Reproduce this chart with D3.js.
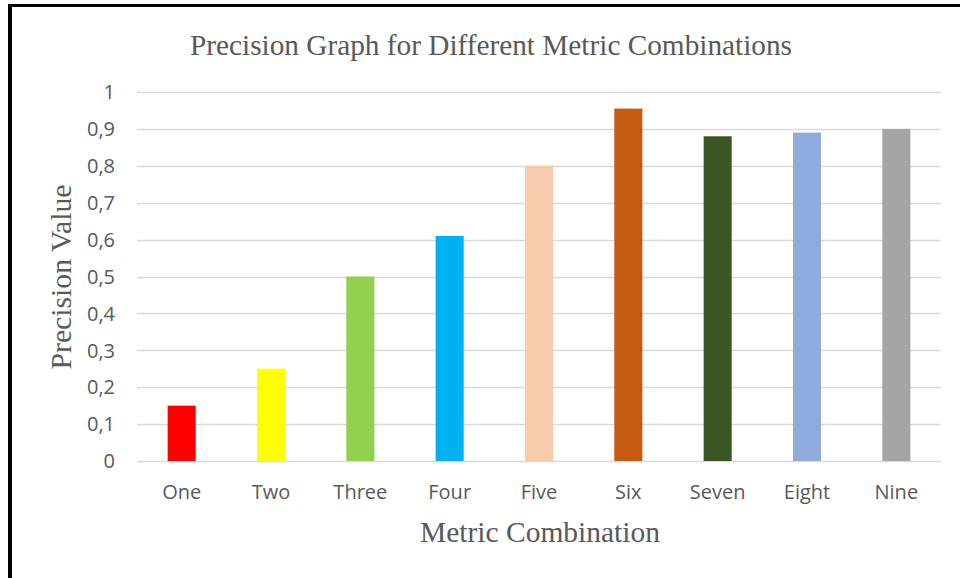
<!DOCTYPE html>
<html>
<head>
<meta charset="utf-8">
<script src="https://cdn.jsdelivr.net/npm/d3@7"></script>
<style>
  html, body { margin: 0; padding: 0; background: #fff; }
  svg { display: block; }
</style>
</head>
<body>
<svg id="chart" width="960" height="578"></svg>
<script>
// Precision per metric combination
const categories = ["One", "Two", "Three", "Four", "Five", "Six", "Seven", "Eight", "Nine"];
const precision  = [0.15, 0.25, 0.50, 0.61, 0.80, 0.955, 0.88, 0.89, 0.90];
const barColors  = ["#FF0000", "#FFFF00", "#92D050", "#00B0F0", "#F8CBAD", "#C55A11", "#3A5623", "#8FAADC", "#A5A5A5"];
const yTicks     = [0, 0.1, 0.2, 0.3, 0.4, 0.5, 0.6, 0.7, 0.8, 0.9, 1];
const yTickLabels = ["0", "0,1", "0,2", "0,3", "0,4", "0,5", "0,6", "0,7", "0,8", "0,9", "1"];

const svg = d3.select("#chart");
const textColor = "#595959";
const plot = { left: 137, right: 941, top: 92, bottom: 461 };

const x = d3.scaleBand()
  .domain(categories)
  .range([plot.left, plot.right])
  .paddingInner(0.686)
  .paddingOuter(0.343);

const y = d3.scaleLinear()
  .domain([0, 1])
  .range([plot.bottom, plot.top]);

// frame lines along the top and left edges
svg.append("rect").attr("x", 8).attr("y", 4).attr("width", 952).attr("height", 3).attr("fill", "#000");
svg.append("rect").attr("x", 8).attr("y", 4).attr("width", 4).attr("height", 574).attr("fill", "#000");

// horizontal gridlines
svg.append("g")
  .selectAll("line")
  .data(yTicks)
  .join("line")
  .attr("x1", plot.left)
  .attr("x2", plot.right)
  .attr("y1", d => Math.round(y(d)) + 0.5)
  .attr("y2", d => Math.round(y(d)) + 0.5)
  .attr("stroke", "#D9D9D9")
  .attr("stroke-width", 1.4);

// y tick labels
svg.append("g")
  .selectAll("text")
  .data(yTicks)
  .join("text")
  .attr("x", 115)
  .attr("y", d => y(d))
  .attr("dy", "0.36em")
  .attr("text-anchor", "end")
  .attr("font-family", "'Open Sans', sans-serif")
  .attr("font-size", 20)
  .attr("fill", textColor)
  .text((d, i) => yTickLabels[i]);

// bars
svg.append("g")
  .selectAll("rect")
  .data(categories)
  .join("rect")
  .attr("x", d => x(d))
  .attr("width", x.bandwidth())
  .attr("y", (d, i) => y(precision[i]))
  .attr("height", (d, i) => y(0) - y(precision[i]))
  .attr("fill", (d, i) => barColors[i]);

// category labels
svg.append("g")
  .selectAll("text")
  .data(categories)
  .join("text")
  .attr("x", d => x(d) + x.bandwidth() / 2)
  .attr("y", 499)
  .attr("text-anchor", "middle")
  .attr("font-family", "'Open Sans', sans-serif")
  .attr("font-size", 20)
  .attr("fill", textColor)
  .text(d => d);

// chart title
svg.append("text")
  .attr("x", 491)
  .attr("y", 55)
  .attr("text-anchor", "middle")
  .attr("font-family", "'Liberation Serif', 'Times New Roman', serif")
  .attr("font-size", 29)
  .attr("fill", textColor)
  .attr("textLength", 602)
  .attr("lengthAdjust", "spacingAndGlyphs")
  .text("Precision Graph for Different Metric Combinations");

// axis titles
svg.append("text")
  .attr("x", 540)
  .attr("y", 542)
  .attr("text-anchor", "middle")
  .attr("font-family", "'Liberation Serif', 'Times New Roman', serif")
  .attr("font-size", 29)
  .attr("fill", textColor)
  .attr("textLength", 240)
  .attr("lengthAdjust", "spacingAndGlyphs")
  .text("Metric Combination");

svg.append("text")
  .attr("transform", "translate(71,277) rotate(-90)")
  .attr("text-anchor", "middle")
  .attr("font-family", "'Liberation Serif', 'Times New Roman', serif")
  .attr("font-size", 29)
  .attr("fill", textColor)
  .attr("textLength", 185)
  .attr("lengthAdjust", "spacingAndGlyphs")
  .text("Precision Value");
</script>
</body>
</html>
